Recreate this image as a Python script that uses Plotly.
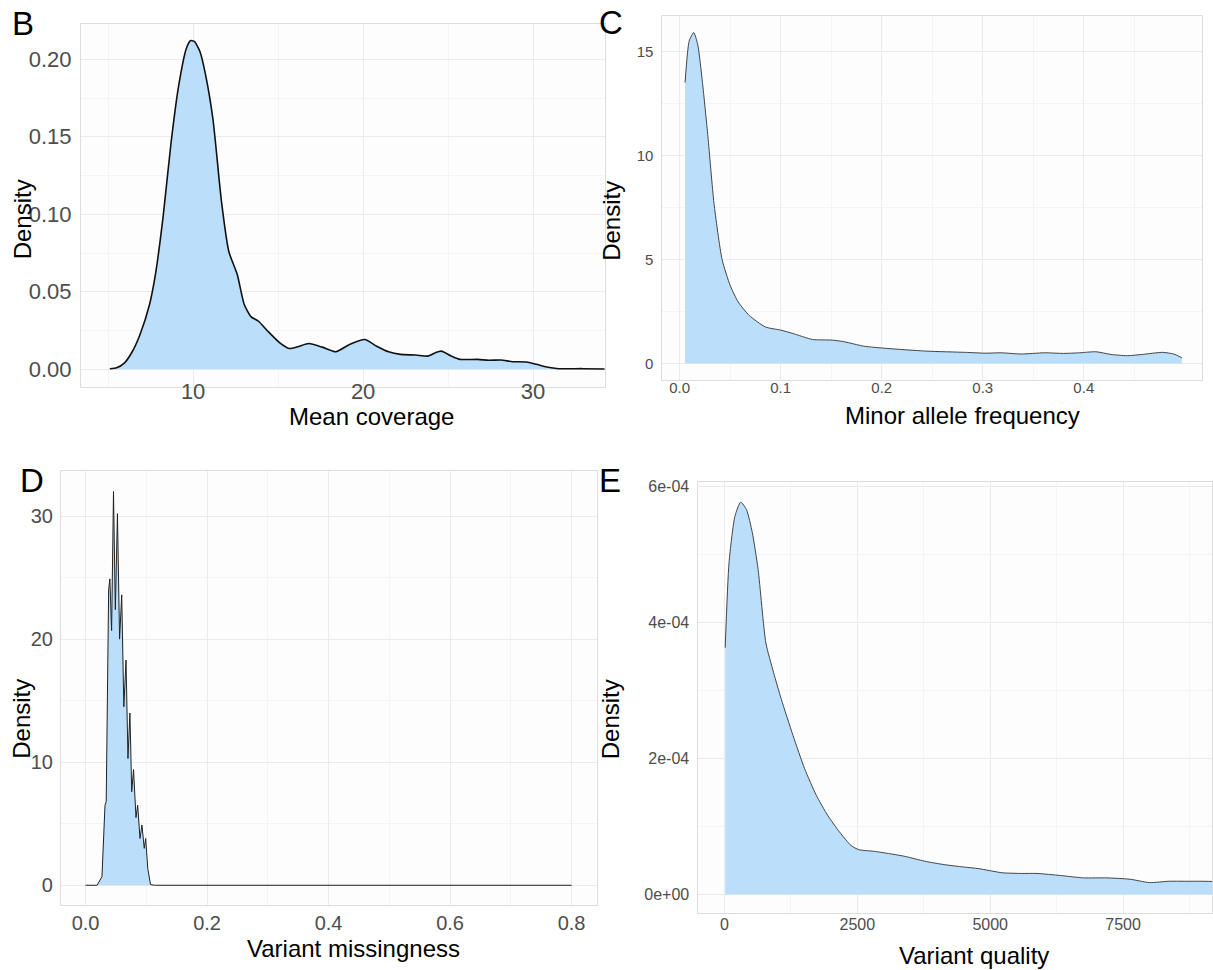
import plotly.graph_objects as go

W, H = 1213, 970

# ---- Panel B: mean coverage density ----
cov_x = [5.1, 5.5, 5.95, 6.4, 6.86, 7.44, 7.78, 8.24, 8.7, 9.15, 9.6, 9.84, 10.07, 10.4,
         10.75, 11.17, 11.67, 12.1, 12.6, 13.0, 13.4, 13.85, 14.4, 15.1, 15.65, 16.2,
         16.8, 17.6, 18.4, 19.2, 20.1, 20.8, 21.5, 22.2, 23.1, 23.8, 24.25, 24.6, 25.2,
         25.7, 26.75, 27.4, 28.1, 28.8, 29.6, 30.2, 30.8, 31.5, 32.9, 34.4]
cov_density = [0.0004, 0.001, 0.004, 0.011, 0.022, 0.042, 0.061, 0.099, 0.146, 0.183,
               0.207, 0.212, 0.2115, 0.205, 0.189, 0.161, 0.108, 0.076, 0.061, 0.042,
               0.034, 0.031, 0.0245, 0.017, 0.0134, 0.0147, 0.0166, 0.0143, 0.0113,
               0.016, 0.0192, 0.0149, 0.0113, 0.0096, 0.0092, 0.0085, 0.0107, 0.0117,
               0.0085, 0.0064, 0.0064, 0.0058, 0.006, 0.0049, 0.0047, 0.0032, 0.0015,
               0.0004, 0.0004, 0.0002]

# ---- Panel C: minor allele frequency density ----
maf_x = [0.0054, 0.0095, 0.014, 0.018, 0.0226, 0.028, 0.034, 0.042, 0.050, 0.058, 0.069,
         0.085, 0.100, 0.112, 0.1315, 0.151, 0.163, 0.182, 0.205, 0.244, 0.283, 0.303,
         0.318, 0.338, 0.361, 0.380, 0.396, 0.412, 0.427, 0.443, 0.458, 0.478, 0.489,
         0.497]
maf_density = [13.5, 15.5, 15.9, 15.3, 13.5, 10.9, 7.7, 5.0, 3.75, 2.95, 2.3, 1.75, 1.6,
               1.44, 1.15, 1.12, 1.04, 0.83, 0.72, 0.59, 0.53, 0.49, 0.51, 0.45, 0.51,
               0.48, 0.51, 0.56, 0.43, 0.37, 0.43, 0.53, 0.45, 0.27]

# ---- Panel D: variant missingness density ----
miss_x = [0.0, 0.019, 0.027, 0.032, 0.034, 0.038, 0.040, 0.0429, 0.046, 0.049, 0.0525,
          0.056, 0.0595, 0.063, 0.0666, 0.0698, 0.073, 0.076, 0.079, 0.083, 0.0858,
          0.0896, 0.0928, 0.0966, 0.099, 0.1024, 0.107, 0.115, 0.8]
miss_density = [0.0, 0.0, 0.7, 6.5, 6.8, 24.0, 24.9, 20.7, 32.0, 22.4, 30.2, 20.0, 23.6,
                14.5, 18.3, 10.3, 14.0, 7.6, 9.4, 5.5, 6.5, 3.8, 4.9, 3.0, 3.8, 1.35,
                0.05, 0.0, 0.0]

# ---- Panel E: variant quality density ----
qual_x = [15, 87, 197, 306, 415, 525, 634, 780, 926, 1071, 1290, 1509, 1728, 1946, 2165,
          2383, 2529, 2821, 3112, 3404, 3768, 4133, 4497, 4789, 5226, 5590, 5882, 6319,
          6756, 7194, 7631, 7996, 8360, 8652, 9002, 9300]
qual_density = [3.63e-4, 4.88e-4, 5.56e-4, 5.77e-4, 5.66e-4, 5.32e-4, 4.78e-4, 3.70e-4,
                3.26e-4, 2.87e-4, 2.34e-4, 1.85e-4, 1.46e-4, 1.16e-4, 0.92e-4, 0.72e-4,
                0.66e-4, 0.635e-4, 0.60e-4, 0.56e-4, 0.49e-4, 0.44e-4, 0.405e-4, 0.38e-4,
                0.32e-4, 0.31e-4, 0.31e-4, 0.28e-4, 0.245e-4, 0.245e-4, 0.225e-4,
                0.176e-4, 0.195e-4, 0.195e-4, 0.195e-4, 0.19e-4]

# tick definitions
cov_xticks = [10, 20, 30]
cov_yticks = [0.0, 0.05, 0.10, 0.15, 0.20]
maf_xticks = [0.0, 0.1, 0.2, 0.3, 0.4]
maf_yticks = [0, 5, 10, 15]
miss_xticks = [0.0, 0.2, 0.4, 0.6, 0.8]
miss_yticks = [0, 10, 20, 30]
qual_xticks = [0, 2500, 5000, 7500]
qual_yticks = [0, 2e-4, 4e-4, 6e-4]
qual_ytext = ["0e+00", "2e-04", "4e-04", "6e-04"]

FILL = "#bbdefb"
FONT = "Liberation Sans, Arial, sans-serif"
TICK_COLOR = "#4d4d4d"
GRID = "#ebebeb"
GRID_MINOR = "#f4f4f4"
BORDER = "#dddddd"


def px_dom_x(a, b):
    return [a / W, min(b / W, 1.0)]


def px_dom_y(top, bottom):
    return [1 - bottom / H, 1 - top / H]


fig = go.Figure()

panels = [
    # (x, y, line colour, width, shape)
    (cov_x, cov_density, "#111111", 1.6, "spline"),
    (maf_x, maf_density, "#444444", 1.0, "spline"),
    (miss_x, miss_density, "#222222", 1.0, "linear"),
    (qual_x, qual_density, "#444444", 1.0, "spline"),
]
for i, (xs, ys, lc, lw, shape) in enumerate(panels):
    suffix = "" if i == 0 else str(i + 1)
    fig.add_trace(go.Scatter(
        x=xs, y=ys, mode="lines", fill="tozeroy", fillcolor=FILL,
        line=dict(color=lc, width=lw, shape=shape, smoothing=0.6 if shape == "spline" else None),
        xaxis="x" + suffix, yaxis="y" + suffix, showlegend=False, hoverinfo="skip",
    ))


def axis(domain, rng, tickvals, minor_vals, size, anchor, fmt=None, ticktext=None, standoff=3):
    d = dict(
        domain=domain, range=rng, anchor=anchor, tickvals=tickvals,
        showgrid=True, gridcolor=GRID, gridwidth=1, zeroline=False,
        showline=True, mirror=True, linecolor=BORDER, linewidth=1,
        ticks="", tickfont=dict(family=FONT, size=size, color=TICK_COLOR),
        minor=dict(tickvals=minor_vals, showgrid=True, gridcolor=GRID_MINOR, gridwidth=1),
        ticklabelstandoff=standoff, fixedrange=True,
    )
    if fmt:
        d["tickformat"] = fmt
    if ticktext:
        d["ticktext"] = ticktext
    return d


layout = dict(
    width=W, height=H, margin=dict(l=0, r=0, t=0, b=0),
    paper_bgcolor="white", plot_bgcolor="#fdfdfd",
    font=dict(family=FONT),
)

# B
layout["xaxis"] = axis(px_dom_x(81, 605), [3.4, 34.2], cov_xticks, [5, 15, 25], 22, "y", standoff=-15)
layout["yaxis"] = axis(px_dom_y(21, 385), [-0.0113, 0.2228], cov_yticks,
                       [0.025, 0.075, 0.125, 0.175], 22, "x", fmt=".2f", standoff=4)
# C
layout["xaxis2"] = axis(px_dom_x(663, 1203), [-0.017, 0.517], maf_xticks,
                        [0.05, 0.15, 0.25, 0.35, 0.45], 15, "y2", fmt=".1f", standoff=-6)
layout["yaxis2"] = axis(px_dom_y(13, 378), [-0.79, 16.7], maf_yticks, [2.5, 7.5, 12.5], 15,
                        "x2", standoff=5)
# D
layout["xaxis3"] = axis(px_dom_x(61, 597), [-0.0405, 0.841], miss_xticks,
                        [0.1, 0.3, 0.5, 0.7], 20, "y3", fmt=".1f", standoff=0)
layout["yaxis3"] = axis(px_dom_y(469, 905), [-1.62, 33.7], miss_yticks, [5, 15, 25], 20,
                        "x3", standoff=3)
# E
layout["xaxis4"] = axis(px_dom_x(699, 1213), [-489, 9173], qual_xticks,
                        [1250, 3750, 6250, 8750], 16, "y4", standoff=-3)
layout["yaxis4"] = axis(px_dom_y(480, 913), [-2.74e-5, 6.073e-4], qual_yticks,
                        [1e-4, 3e-4, 5e-4], 16, "x4", ticktext=qual_ytext, standoff=5)

fig.update_layout(**layout)


def text(x, y, s, size, angle=0):
    fig.add_annotation(x=x / W, y=1 - y / H, xref="paper", yref="paper", text=s,
                       showarrow=False, textangle=angle, xanchor="center", yanchor="middle",
                       font=dict(family=FONT, size=size, color="black"))


# panel letters
text(23, 21, "B", 33)
text(612, 20, "C", 33)
text(32, 479, "D", 33)
text(611, 479, "E", 33)

# axis titles
text(22, 217, "Density", 24, -90)
text(372, 415, "Mean coverage", 24)
text(612, 218, "Density", 24, -90)
text(963, 414, "Minor allele frequency", 24)
text(22, 718, "Density", 24, -90)
text(354, 948, "Variant missingness", 24)
text(611, 718, "Density", 24, -90)
text(975, 955, "Variant quality", 24)

fig.write_html("out.html")
